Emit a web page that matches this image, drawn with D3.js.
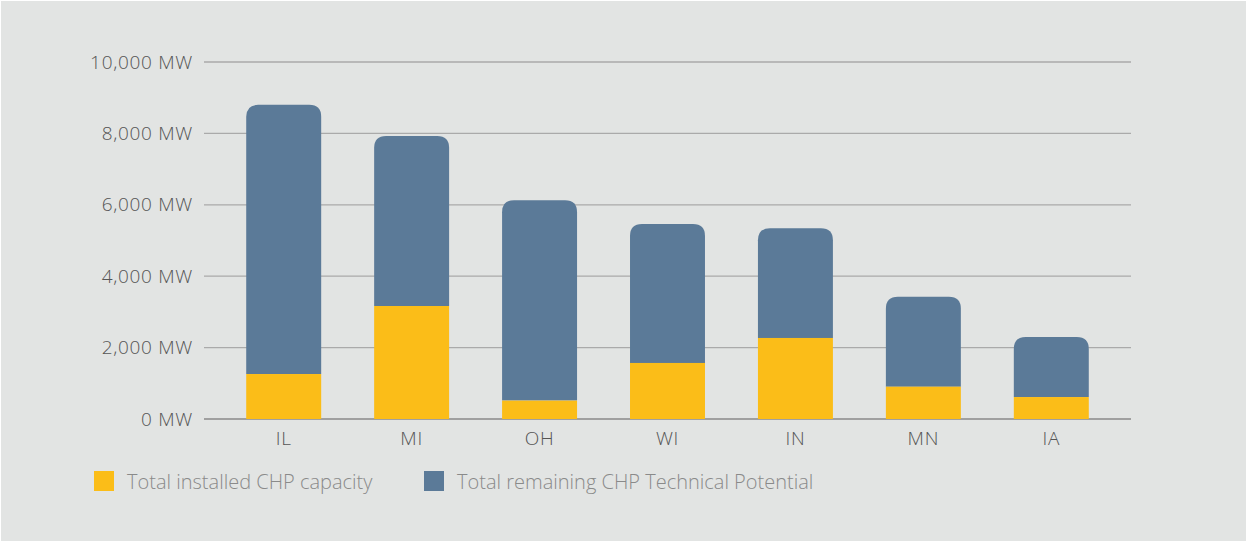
<!DOCTYPE html>
<html><head><meta charset="utf-8">
<script src="https://cdn.jsdelivr.net/npm/d3@7"></script>
<style>
html,body{margin:0;padding:0;background:#fff;}
svg{display:block;}
</style></head>
<body>
<svg id="chart" width="1247" height="542"></svg>
<script>
const categories = ["IL","MI","OH","WI","IN","MN","IA"];
const installed = [1260, 3165, 515, 1570, 2270, 905, 615];
const remaining = [7540, 4765, 5615, 3890, 3070, 2520, 1685];
const yTicks = [0, 2000, 4000, 6000, 8000, 10000];
const seriesNames = ["Total installed CHP capacity", "Total remaining CHP Technical Potential"];
const colors = ["#fbbd18", "#5b7a98"];

const svg = d3.select("#chart");
const W = 1247, H = 542;
const font = "'Open Sans', Lato, sans-serif";

svg.append("rect").attr("x",1).attr("y",1).attr("width",W-2).attr("height",H-2).attr("fill","#e2e4e3");

const x = d3.scaleBand().domain(categories).range([204,1131]).paddingInner(0.414).paddingOuter(0.33);
const y = d3.scaleLinear().domain([0,10000]).range([419,62]);

// gridlines
svg.append("g").selectAll("line").data(yTicks).join("line")
  .attr("x1",204).attr("x2",1131)
  .attr("y1",d=>y(d)).attr("y2",d=>y(d))
  .attr("stroke",d=>d===0?"#8a8a8a":"#aaaaaa").attr("stroke-width",1.3);

// y labels
const fmt = d3.format(",");
svg.append("g").selectAll("text").data(yTicks).join("text")
  .attr("x",193).attr("y",d=>y(d)).attr("dy","0.35em")
  .attr("text-anchor","end").attr("font-family",font).attr("font-weight",300)
  .attr("font-size",19).attr("letter-spacing","0.7px").attr("fill","#555")
  .text(d=>fmt(d)+" MW");

// x labels
svg.append("g").selectAll("text").data(categories).join("text")
  .attr("x",d=>x(d)+x.bandwidth()/2).attr("y",445)
  .attr("text-anchor","middle").attr("font-family",font).attr("font-weight",300)
  .attr("font-size",19).attr("letter-spacing","0.7px").attr("fill","#555")
  .text(d=>d);

const data = categories.map((c,i)=>({cat:c, inst:installed[i], rem:remaining[i]}));
const r = 12;
// remaining (blue) bars with rounded top
svg.append("g").selectAll("path").data(data).join("path")
  .attr("fill",colors[1])
  .attr("d",d=>{
    const x0 = x(d.cat), x1 = x0 + x.bandwidth();
    const yt = y(d.inst + d.rem), yb = y(d.inst);
    return `M${x0},${yb} L${x0},${yt+r} Q${x0},${yt} ${x0+r},${yt} L${x1-r},${yt} Q${x1},${yt} ${x1},${yt+r} L${x1},${yb} Z`;
  });
// installed (yellow)
svg.append("g").selectAll("rect").data(data).join("rect")
  .attr("fill",colors[0])
  .attr("x",d=>x(d.cat)).attr("width",x.bandwidth())
  .attr("y",d=>y(d.inst)).attr("height",d=>y(0)-y(d.inst));

// legend
const legX = [94, 424];
const lg = svg.append("g").selectAll("g").data(seriesNames).join("g");
lg.append("rect").attr("x",(d,i)=>legX[i]).attr("y",471).attr("width",20).attr("height",20)
  .attr("fill",(d,i)=>colors[i]);
lg.append("text").attr("x",(d,i)=>legX[i]+33).attr("y",489)
  .attr("font-family",font).attr("font-weight",300).attr("font-size",20).attr("fill","#8a8a8a")
  .text(d=>d);
</script>
</body></html>
